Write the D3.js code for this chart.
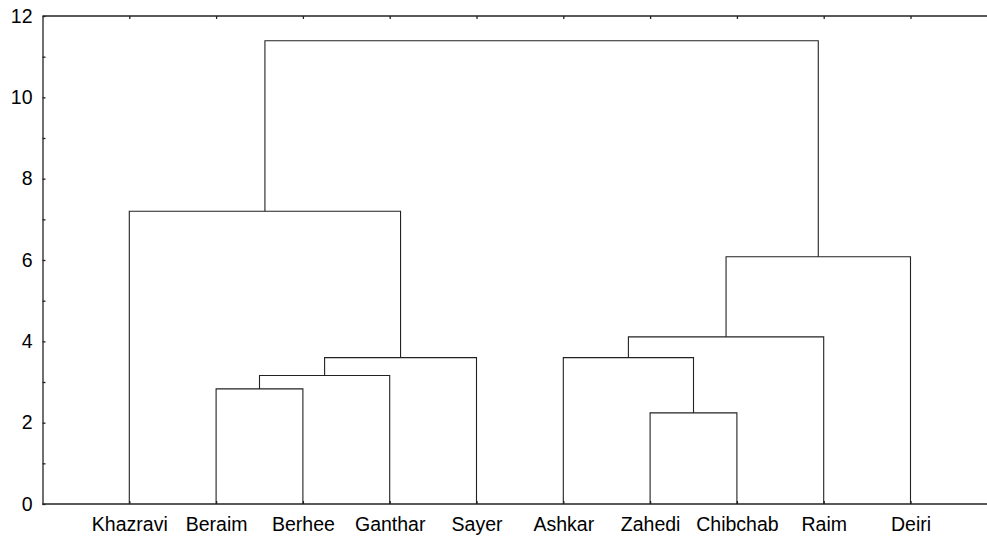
<!DOCTYPE html>
<html><head><meta charset="utf-8">
<script src="https://cdn.jsdelivr.net/npm/d3@7"></script>
<style>
html,body{margin:0;padding:0;background:#fff;}
svg{display:block;font-family:"Liberation Sans",Arial,Helvetica,sans-serif;}
</style></head>
<body>
<svg id="c" width="987" height="536"></svg>
<script>
const leaves = ["Khazravi","Beraim","Berhee","Ganthar","Sayer","Ashkar","Zahedi","Chibchab","Raim","Deiri"];
// merges: [childA, childB, height]; indices 0-9 are leaves, 10+ are clusters in order
const merges = [
  [1, 2, 2.83],
  [10, 3, 3.16],
  [11, 4, 3.60],
  [0, 12, 7.20],
  [6, 7, 2.24],
  [5, 14, 3.60],
  [15, 8, 4.11],
  [16, 9, 6.08],
  [13, 17, 11.39]
];
const yTicks = [0,1,2,3,4,5,6,7,8,9,10,11,12];

(function(){
const svg = d3.select("#c");
const mL = 42.5, mT = 16, mB = 504, mR = 997.3;
const x = d3.scalePoint().domain(leaves).range([mL, mR]).padding(1);
const y = d3.scaleLinear().domain([0, 12]).range([mB, mT]);

const nodes = leaves.map(l => ({x: x(l), h: 0}));
const g = svg.append("g");
merges.forEach(([a, b, h]) => {
  const A = nodes[a], B = nodes[b];
  g.append("path")
    .attr("d", `M${A.x},${y(A.h)}V${y(h)}H${B.x}V${y(B.h)}`)
    .attr("fill", "none").attr("stroke", "#222").attr("stroke-width", 1.1);
  nodes.push({x: (A.x + B.x) / 2, h: h});
});

const ay = svg.append("g").attr("transform", `translate(${mL},0)`)
  .call(d3.axisLeft(y).tickValues(yTicks).tickSizeInner(-3).tickSizeOuter(0).tickPadding(10)
    .tickFormat(d => d % 2 === 0 ? d : ""));
ay.selectAll("text").attr("font-size", 19.5).attr("fill", "#000");

const ax = svg.append("g").attr("transform", `translate(0,${mB})`)
  .call(d3.axisBottom(x).tickSizeInner(-3).tickSizeOuter(0).tickPadding(13.5));
ax.selectAll("text").attr("font-size", 19.5).attr("fill", "#000");
ax.select(".domain").attr("d", `M${mL},0H987`);

const at = svg.append("g").attr("transform", `translate(0,${mT})`)
  .call(d3.axisTop(x).tickSizeInner(-3).tickSizeOuter(0).tickFormat(""));
at.select(".domain").attr("d", `M${mL},0H987`);

svg.selectAll(".domain, .tick line").attr("stroke", "#222").attr("stroke-width", 1.3);
svg.selectAll("g").attr("font-family", null);
})();
</script>
</body></html>
